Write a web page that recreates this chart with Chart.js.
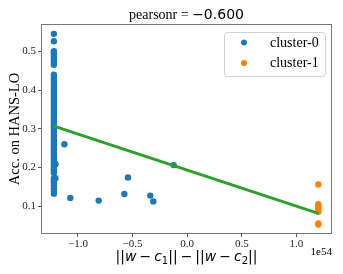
<!DOCTYPE html>
<html><head><meta charset="utf-8">
<script src="https://cdn.jsdelivr.net/npm/chart.js@4/dist/chart.umd.min.js"></script>
<style>html,body{margin:0;padding:0;background:#fff}#wrap{width:343px;height:274px}</style>
</head><body><div id="wrap"><canvas id="c" width="343" height="274"></canvas></div>
<script>
// x values in units of 1e54
const xExponentLabel = "1e54";
const seriesNames = ["cluster-0", "cluster-1"];
const blueX = [
 -1.22,-1.22,-1.22,-1.22,-1.22,-1.22,-1.22,-1.22,-1.22,-1.22,
 -1.22,-1.22,-1.22,-1.22,-1.22,-1.22,-1.22,-1.22,-1.22,-1.22,
 -1.22,-1.22,-1.22,-1.22,-1.22,-1.22,-1.22,-1.22,-1.22,-1.22,
 -1.22,-1.22,-1.22,-1.22,-1.22,-1.22,-1.22,-1.22,-1.22,-1.22,
 -1.22,-1.22,-1.22,-1.22,-1.22,-1.22,-1.22,-1.22,-1.22,-1.22,
 -1.22,-1.22,-1.22,-1.22,-1.22,-1.22,-1.22,-1.22,-1.22,
 -1.205,-1.205,
 -1.124,-1.07,-0.81,-0.575,-0.542,-0.338,-0.31,-0.124
];
const blueY = [
 0.546,0.527,0.501,0.496,0.49,0.484,0.478,0.472,0.466,0.44,
 0.434,0.428,0.422,0.414,0.408,0.402,0.396,0.39,0.384,0.378,
 0.372,0.366,0.36,0.354,0.348,0.342,0.336,0.33,0.324,0.318,
 0.312,0.306,0.3,0.294,0.288,0.282,0.276,0.27,0.264,0.258,
 0.252,0.246,0.24,0.234,0.228,0.222,0.216,0.21,0.204,0.198,
 0.192,0.186,0.172,0.166,0.16,0.154,0.146,0.138,0.132,
 0.208,0.172,
 0.26,0.121,0.114,0.131,0.174,0.127,0.112,0.206
];
const orangeX = [1.20,1.20,1.20,1.20,1.20,1.20,1.20,1.20];
const orangeY = [0.156,0.105,0.1,0.095,0.09,0.085,0.055,0.052];
const fitX = [-1.22, 1.20];
const fitY = [0.307, 0.081];
const yTicks = [0.1,0.2,0.3,0.4,0.5];
const xTicks = [-1.0,-0.5,0.0,0.5,1.0];
const titleText = ["pearsonr = ", "\u22120.600"];
const yTitle = "Acc. on HANS-LO";

const pts = (xs, ys) => xs.map((x,i)=>({x:x, y:ys[i]}));
const fmt = v => (v<0 ? "\u2212" : "") + Math.abs(v).toFixed(1);
const serif = '"Liberation Serif","Times New Roman",serif';
const colors = ["#1f77b4", "#ff7f0e"];

const deco = {
  id: 'deco',
  afterDraw(chart) {
    const ctx = chart.ctx, a = chart.chartArea;
    ctx.save();
    // frame
    ctx.strokeStyle = '#777'; ctx.lineWidth = 1;
    ctx.strokeRect(Math.round(a.left)+0.5, Math.round(a.top)+0.5, Math.round(a.right-a.left)-1, Math.round(a.bottom-a.top)-1);
    // title
    ctx.fillStyle = '#000'; ctx.textBaseline = 'middle';
    const f1 = '14px ' + serif, f2 = '14px "DejaVu Sans"';
    ctx.font = f1; const w1 = ctx.measureText(titleText[0]).width;
    ctx.font = f2; const w2 = ctx.measureText(titleText[1]).width;
    let tx = (a.left + a.right)/2 - (w1+w2)/2;
    ctx.textAlign = 'left';
    ctx.font = f1; ctx.fillText(titleText[0], tx, 15);
    ctx.font = f2; ctx.fillText(titleText[1], tx + w1, 15);
    // y title
    ctx.save();
    ctx.translate(15, (a.top + a.bottom)/2);
    ctx.rotate(-Math.PI/2);
    ctx.textAlign = 'center'; ctx.font = '14.5px ' + serif;
    ctx.fillText(yTitle, 0, 0);
    ctx.restore();
    // x title (math)
    const up = '14px "DejaVu Sans"', it = 'italic 14px "DejaVu Sans"', sbu = '10px "DejaVu Sans"';
    const segs = [
      ["||", up, 0, 0], ["w", it, 0, 0], ["\u2212", up, 0, 3], ["c", it, 0, 0], ["1", sbu, 3, 0], ["||", up, 0, 0],
      ["\u2212", up, 0, 3],
      ["||", up, 0, 0], ["w", it, 0, 0], ["\u2212", up, 0, 3], ["c", it, 0, 0], ["2", sbu, 3, 0], ["||", up, 0, 0]
    ];
    let tot = 0;
    segs.forEach(s => { ctx.font = s[1]; s.w = ctx.measureText(s[0]).width; tot += s.w + 2*s[3]; });
    let x = (a.left + a.right)/2 - tot/2;
    ctx.textAlign = 'left'; ctx.textBaseline = 'alphabetic';
    segs.forEach(s => { ctx.font = s[1]; x += s[3]; ctx.fillText(s[0], x, 261 + s[2]); x += s.w + s[3]; });
    // offset text
    ctx.font = '11px ' + serif; ctx.textAlign = 'right'; ctx.textBaseline = 'middle';
    ctx.fillText(xExponentLabel, a.right, 252.5);
    // legend
    const lx = 224, ly = 32, lw = 101, lh = 44;
    ctx.beginPath();
    ctx.roundRect(lx+0.5, ly+0.5, lw, lh, 3);
    ctx.fillStyle = 'rgba(255,255,255,0.8)'; ctx.fill();
    ctx.strokeStyle = '#d0d0d0'; ctx.lineWidth = 1; ctx.stroke();
    seriesNames.forEach((n, i) => {
      const yy = 42.5 + i*20.5;
      ctx.beginPath(); ctx.arc(244, yy, 3, 0, Math.PI*2);
      ctx.fillStyle = colors[i]; ctx.fill();
      ctx.fillStyle = '#000'; ctx.font = '14px ' + serif; ctx.textAlign = 'left'; ctx.textBaseline = 'middle';
      ctx.fillText(n, 270, yy + 0.5);
    });
    ctx.restore();
  }
};

new Chart(document.getElementById('c'), {
  type: 'scatter',
  data: {
    datasets: [
      { type: 'line', label: 'fit', data: pts(fitX, fitY), borderColor: '#2ca02c', borderWidth: 3,
        pointRadius: 0, fill: false, order: 0 },
      { label: seriesNames[0], data: pts(blueX, blueY), backgroundColor: colors[0], borderWidth: 0,
        pointRadius: 3.2, order: 1 },
      { label: seriesNames[1], data: pts(orangeX, orangeY), backgroundColor: colors[1], borderWidth: 0,
        pointRadius: 3.2, order: 2 }
    ]
  },
  options: {
    responsive: false, animation: false, devicePixelRatio: 1,
    layout: { padding: { left: 0, right: 11, top: 24, bottom: 0 } },
    plugins: { legend: { display: false }, tooltip: { enabled: false }, title: { display: false } },
    scales: {
      x: {
        type: 'linear', min: -1.338, max: 1.325,
        afterFit(s) { s.height = 40; },
        afterBuildTicks(s) { s.ticks = xTicks.map(v => ({ value: v })); },
        grid: { drawOnChartArea: false, tickLength: 3, color: '#555' },
        border: { display: false },
        ticks: { font: { family: serif, size: 11 }, color: '#222', padding: 1, maxRotation: 0,
                 callback: v => fmt(v) }
      },
      y: {
        type: 'linear', min: 0.0275, max: 0.5715,
        afterFit(s) { s.width = 41; },
        afterBuildTicks(s) { s.ticks = yTicks.map(v => ({ value: v })); },
        grid: { drawOnChartArea: false, tickLength: 3, color: '#555' },
        border: { display: false },
        ticks: { font: { family: serif, size: 11 }, color: '#222', padding: 2,
                 callback: v => v.toFixed(1) }
      }
    }
  },
  plugins: [deco]
});
</script></body></html>
